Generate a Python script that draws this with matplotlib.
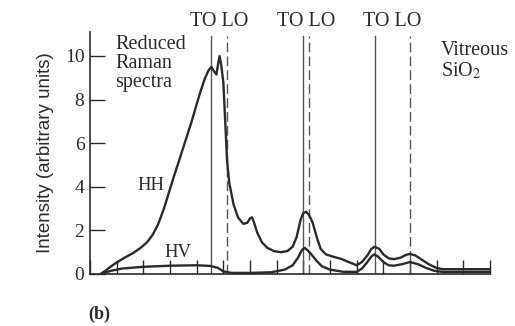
import matplotlib.pyplot as plt

plt.rcParams['mathtext.fontset'] = 'stix'

# wavenumber (cm^-1) and reduced Raman intensity
hh_x = [40, 60, 80, 100, 130, 160, 190, 215, 235, 255, 275, 290, 310, 330, 355, 380,
        410, 430, 445, 455, 465, 474, 480, 486, 492, 500, 507, 514, 522, 538, 555,
        575, 590, 600, 607, 614, 627, 645, 665, 690, 715, 740, 760, 775, 790, 800,
        810, 822, 835, 850, 865, 885, 910, 940, 970, 1000, 1020, 1040, 1055, 1068,
        1085, 1100, 1120, 1140, 1165, 1185, 1200, 1220, 1245, 1270, 1295, 1320,
        1400, 1500]
hh_y = [0.0, 0.17, 0.36, 0.53, 0.75, 0.95, 1.2, 1.47, 1.8, 2.27, 2.92, 3.5, 4.3, 5.05,
        6.0, 6.95, 8.2, 8.95, 9.35, 9.5, 9.3, 9.15, 9.6, 10.0, 9.6, 8.8, 7.0, 5.2,
        4.2, 3.2, 2.6, 2.3, 2.35, 2.55, 2.6, 2.4, 1.9, 1.45, 1.2, 1.05, 1.0, 1.05,
        1.25, 1.7, 2.5, 2.8, 2.85, 2.7, 2.35, 1.7, 1.15, 0.9, 0.8, 0.7, 0.55, 0.4,
        0.55, 0.85, 1.15, 1.25, 1.15, 0.9, 0.72, 0.68, 0.75, 0.88, 0.92, 0.85,
        0.65, 0.45, 0.3, 0.22, 0.22, 0.22]

hv_x = [40, 80, 120, 200, 300, 400, 450, 480, 500, 530, 600, 680, 730, 760, 780,
        795, 805, 815, 830, 850, 870, 900, 950, 1000, 1020, 1040, 1055, 1065, 1080,
        1100, 1120, 1140, 1170, 1200, 1230, 1260, 1290, 1320, 1500]
hv_y = [0.0, 0.15, 0.25, 0.33, 0.38, 0.4, 0.37, 0.28, 0.12, 0.05, 0.05, 0.08, 0.2,
        0.4, 0.75, 1.1, 1.2, 1.1, 0.9, 0.6, 0.35, 0.2, 0.1, 0.1, 0.25, 0.55, 0.8,
        0.9, 0.8, 0.55, 0.4, 0.38, 0.45, 0.55, 0.45, 0.28, 0.15, 0.1, 0.1]

to_modes = [455, 800, 1068]
lo_modes = [515, 820, 1200]

serif = 'Liberation Serif'
ink = '#2a2a2a'

fig = plt.figure(figsize=(5.15, 3.26), dpi=100)
ax = fig.add_axes([90 / 515, 52 / 326, 400 / 515, 242 / 326])

for to, lo in zip(to_modes, lo_modes):
    ax.plot([to, to], [0, 10.9], color='#555555', lw=1.0)
    ax.plot([lo, lo], [0, 10.9], color='#555555', lw=1.0, dashes=(7, 3))
    ax.text((to + lo) / 2, 11.6, 'TO LO', ha='center', va='center',
            family=serif, fontsize=14.5, color=ink, clip_on=False)

ax.plot(hh_x, hh_y, color=ink, lw=1.7)
ax.plot(hv_x, hv_y, color=ink, lw=1.7)

ax.set_xlim(0, 1500)
ax.set_ylim(0, 11.1)
ax.set_xticks(range(0, 1501, 100))
ax.set_xticklabels([])
ax.set_yticks([0, 2, 4, 6, 8, 10])
ax.tick_params(axis='x', direction='in', length=10, width=1, color=ink)
ax.tick_params(axis='y', direction='in', length=11, width=1, color=ink,
               labelsize=14, pad=4)
for lab in ax.get_yticklabels():
    lab.set_family(serif)
    lab.set_color(ink)

for side in ['top', 'right']:
    ax.spines[side].set_visible(False)
for side in ['left', 'bottom']:
    ax.spines[side].set_color(ink)
    ax.spines[side].set_linewidth(1.2)

ax.set_ylabel('Intensity (arbitrary units)', family='Liberation Sans',
              fontsize=13.5, color=ink, labelpad=8)

ax.text(95, 10.95, 'Reduced\nRaman\nspectra', family=serif, fontsize=14.5,
        color=ink, va='top', linespacing=1.0)
ax.text(1315, 10.7, 'Vitreous\nSiO$_2$', family=serif, fontsize=14.5,
        color=ink, va='top', linespacing=1.05)
ax.text(177, 3.85, 'HH', family=serif, fontsize=13.5, color=ink, ha='left')
ax.text(280, 0.8, 'HV', family=serif, fontsize=13.5, color=ink, ha='left')
fig.text(88 / 515, 1 - 314 / 326, '(b)', family=serif, fontsize=13,
         fontweight='bold', color=ink, va='center')

fig.savefig('out.png', dpi=100)
